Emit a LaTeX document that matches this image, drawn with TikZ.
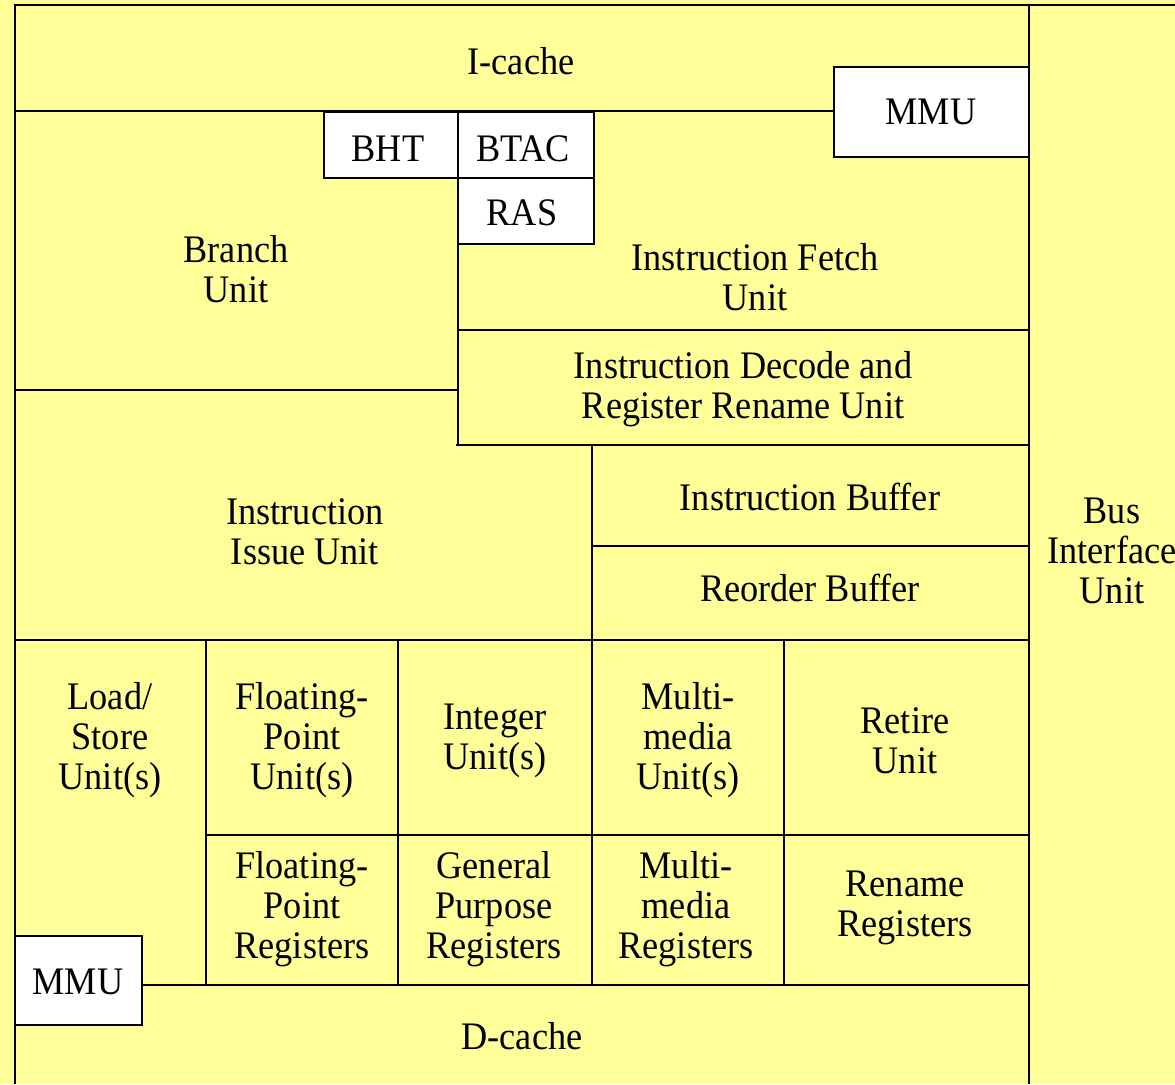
\documentclass[tikz,border=0pt]{standalone}
\usepackage{fontspec}
\setmainfont[FakeStretch=0.93]{Liberation Serif}
\definecolor{chipyellow}{HTML}{FFFF99}
\begin{document}
\begin{tikzpicture}[x=1pt,y=-1pt,
  wall/.style={line width=1.5pt,draw=black},
  label/.style={align=center,inner sep=0pt,font=\fontsize{39}{40}\selectfont},
  whitebox/.style={wall,fill=white}]
% page and background
\fill[chipyellow] (0,0) rectangle (1175,1084);
\useasboundingbox (0,0) rectangle (1175,1084);

% outer frame
\draw[wall] (15,1084) -- (15,5) -- (1175,5);
\draw[wall] (1029,5) -- (1029,1084);

% I-cache / front end
\draw[wall] (15,111) -- (834,111);
\draw[wall] (458,244) -- (458,445);
\draw[wall] (15,390) -- (458,390);
\draw[wall] (458,330) -- (1029,330);
\draw[wall] (456,445) -- (1029,445);
\draw[wall] (592,445) -- (592,985);
\draw[wall] (592,546) -- (1029,546);
\draw[wall] (15,640) -- (1029,640);

% execution units and register files
\draw[wall] (206,640) -- (206,985);
\draw[wall] (398,640) -- (398,985);
\draw[wall] (784,640) -- (784,985);
\draw[wall] (206,835) -- (1029,835);
\draw[wall] (142,985) -- (1029,985);

% small white boxes
\draw[whitebox] (834,67) rectangle (1029,157);
\draw[whitebox] (324,112) rectangle (458,178);
\draw[whitebox] (458,112) rectangle (594,178);
\draw[whitebox] (458,178) rectangle (594,244);
\draw[whitebox] (15,936) rectangle (142,1025);

% labels
\node[label] (icache) at (521,61) {I-cache};
\node[label] (mmuI) at (931,112) {MMU};
\node[label] (bht) at (388,149) {BHT};
\node[label] (btac) at (523,149) {BTAC};
\node[label] (ras) at (522,213) {RAS};
\node[label] (branch) at (236,269) {Branch\\Unit};
\node[label] (fetch) at (755,277) {Instruction Fetch\\Unit};
\node[label] (decode) at (743,389) {Instruction Decode and\\Register Rename Unit};
\node[label] (issue) at (305,532) {Instruction\\Issue Unit};
\node[label] (ibuf) at (810,497) {Instruction Buffer};
\node[label] (rob) at (810,588) {Reorder Buffer};
\node[label] (biu) at (1112,551) {Bus\\Interface\\Unit};
\node[label] (lsu) at (110,740) {Load/\\Store\\Unit(s)};
\node[label] (fpu) at (302,740) {Floating-\\Point\\Unit(s)};
\node[label] (intu) at (495,741) {Integer\\Unit(s)};
\node[label] (mmx) at (688,740) {Multi-\\media\\Unit(s)};
\node[label] (retire) at (905,741) {Retire\\Unit};
\node[label] (fpr) at (302,909) {Floating-\\Point\\Registers};
\node[label] (gpr) at (494,909) {General\\Purpose\\Registers};
\node[label] (mmr) at (686,909) {Multi-\\media\\Registers};
\node[label] (ren) at (905,908) {Rename\\Registers};
\node[label] (mmuD) at (78,982) {MMU};
\node[label] (dcache) at (522,1036) {D-cache};
\end{tikzpicture}
\end{document}
